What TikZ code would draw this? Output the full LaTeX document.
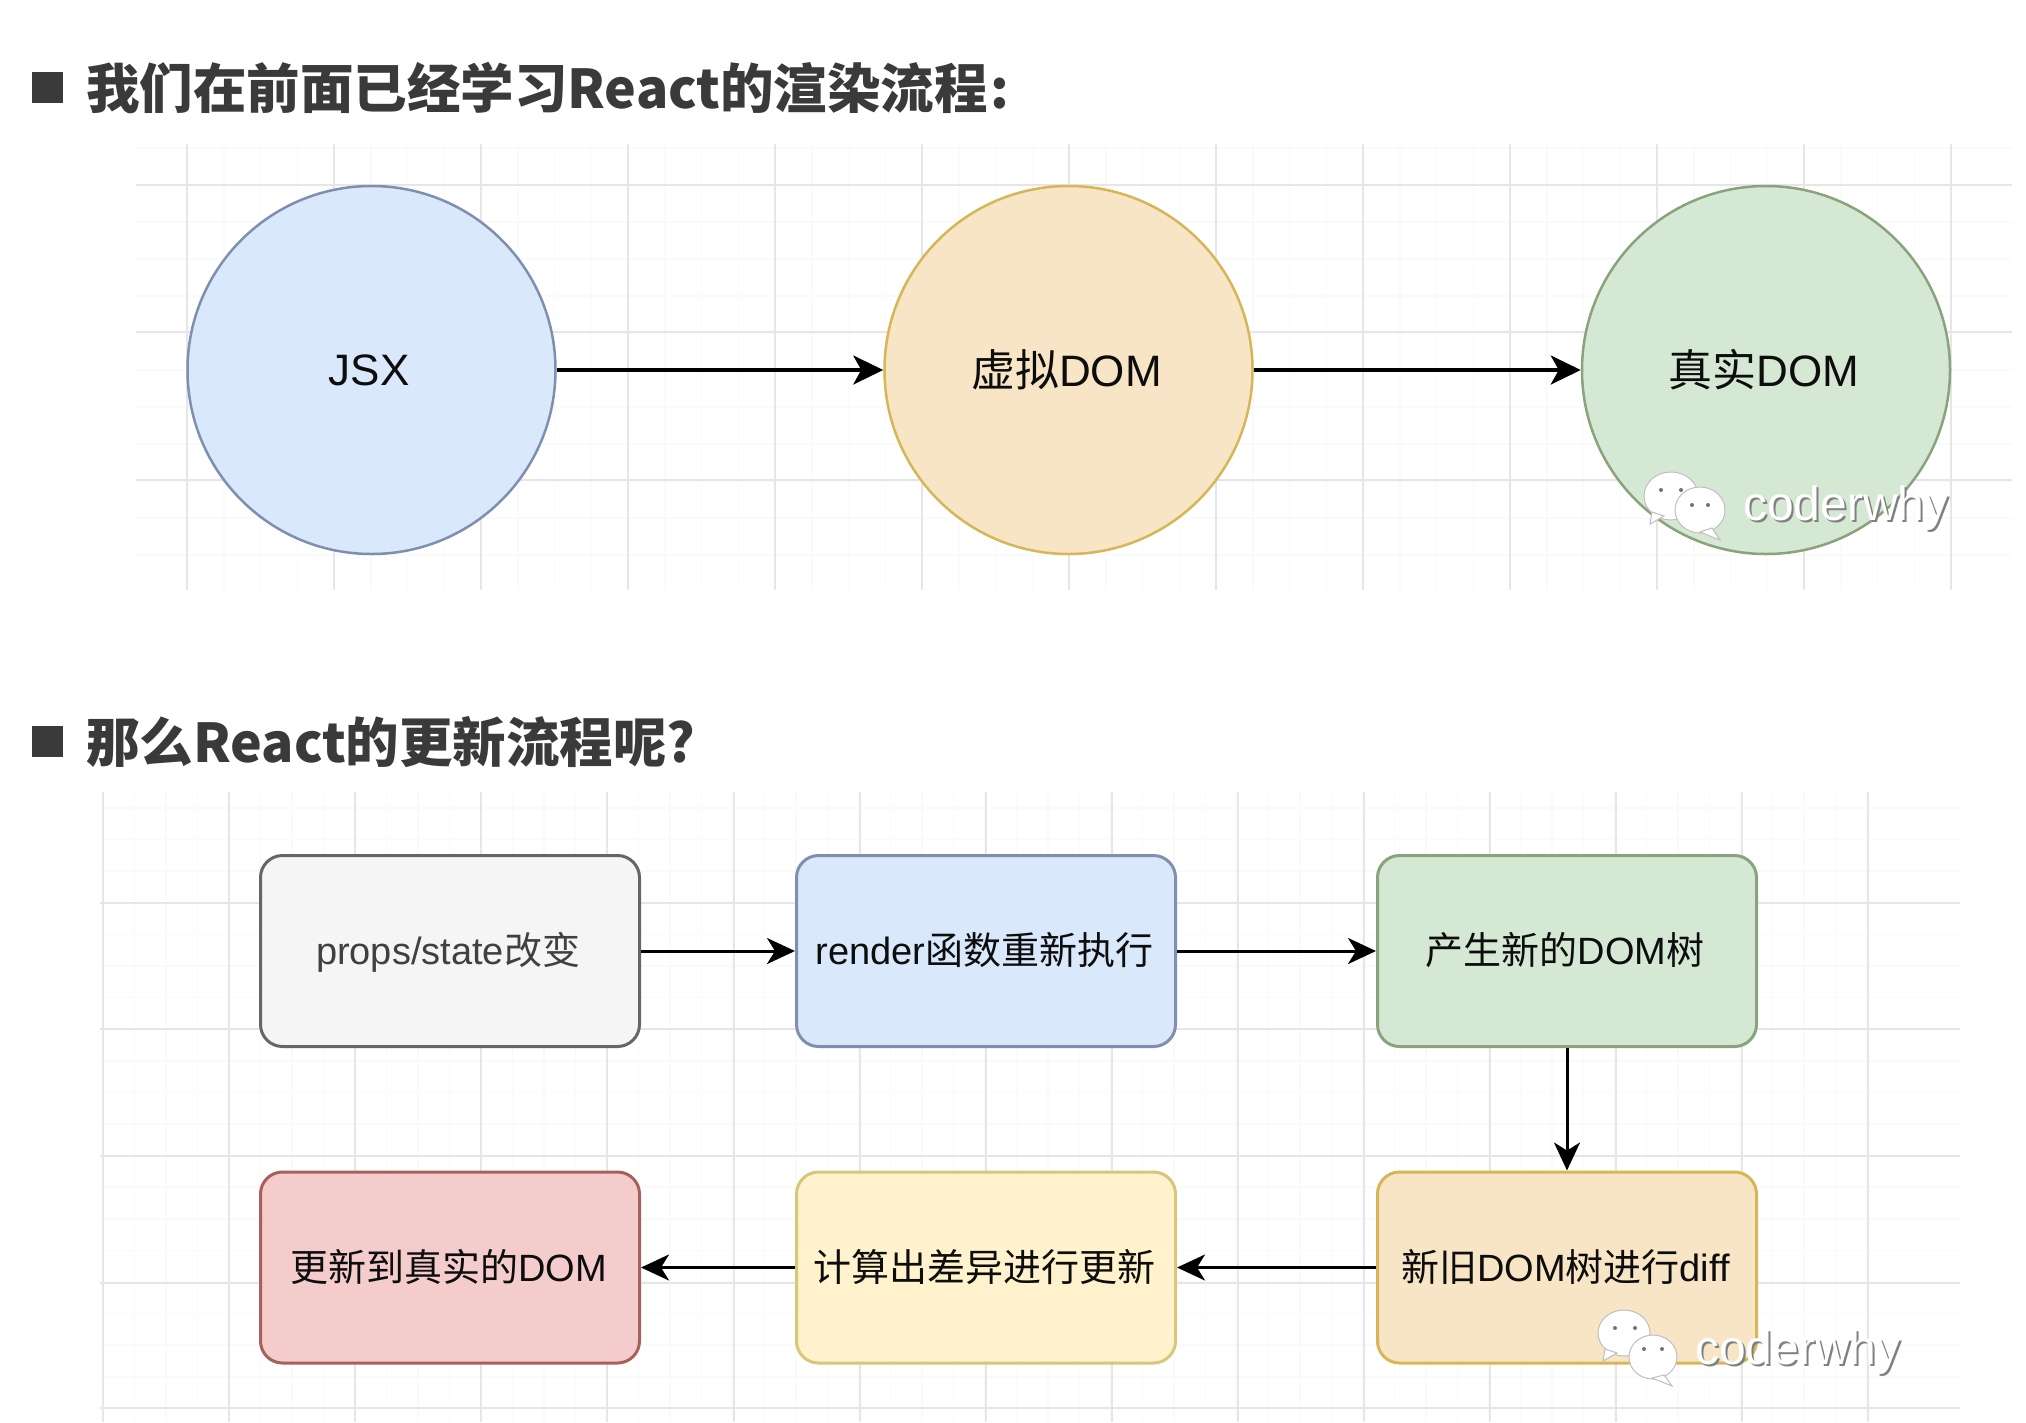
\documentclass[tikz,border=0pt]{standalone}
\usepackage{fontspec}
\setmainfont{Liberation Sans}
\newfontfamily\cjk{Noto Sans CJK SC}
\usetikzlibrary{arrows.meta}
\definecolor{titleink}{HTML}{3A3A3A}
\definecolor{gridmaj}{HTML}{E6E6E6}
\definecolor{gridmin}{HTML}{FAFAFA}
\definecolor{fblue}{HTML}{DAE8FC}\definecolor{sblue}{HTML}{7F8FB0}
\definecolor{fora}{HTML}{F8E5C6}\definecolor{sora}{HTML}{D6B656}
\definecolor{fgreen}{HTML}{D5E8D4}\definecolor{sgreen}{HTML}{8BA37C}
\definecolor{fgray}{HTML}{F5F5F5}\definecolor{sgray}{HTML}{666666}
\definecolor{fyel}{HTML}{FFF2CC}\definecolor{syel}{HTML}{D6C77A}
\definecolor{fred}{HTML}{F4CCCC}\definecolor{sred}{HTML}{A8605C}
\tikzset{
  x=1pt,y=-1pt,
  titletext/.style={anchor=west,inner sep=0pt,text=titleink,font=\cjk\bfseries\fontsize{53.5}{60}\selectfont},
  bulletmark/.style={fill=titleink,draw=none,inner sep=0pt,minimum size=31pt},
  bigcircle/.style 2 args={circle,fill=#1,draw=#2,line width=2.5pt,minimum size=368pt,inner sep=0pt,text=black!95,font=\fontsize{44}{50}\selectfont},
  flowbox/.style 2 args={rectangle,rounded corners=22pt,fill=#1,draw=#2,line width=3pt,minimum width=379pt,minimum height=191pt,inner sep=0pt,text=black!95,text height=33pt,text depth=6pt,font=\fontsize{38}{44}\selectfont},
  conn/.style={line width=3.5pt,-{Stealth[length=30pt,width=29pt,inset=8pt]},black},
  connlow/.style={line width=3pt,-{Stealth[length=28pt,width=26pt,inset=8pt]},black},
  gmaj/.style={draw=gridmaj,line width=2pt},
  gmin/.style={draw=gridmin,line width=1.5pt},
  wmark/.style={anchor=base west,inner sep=0pt,font=\fontsize{48}{54}\selectfont},
  bubble/.style={fill=white,draw=black!25,line width=1pt},
  eye/.style={fill=black!55,draw=none},
}
\begin{document}
\begin{tikzpicture}
\useasboundingbox[fill=white] (0,0) rectangle (2026,1422);
% upper grid
\foreach \i in {0,...,47}{\draw[gmin] ({187+36.75*\i},144) -- ({187+36.75*\i},590);}
\foreach \i in {0,...,11}{\draw[gmin] (136,{148+37*\i}) -- (2012,{148+37*\i});}
\foreach \i in {0,...,12}{\draw[gmaj] ({187+147*\i},144) -- ({187+147*\i},590);}
\foreach \y in {185,332,480}{\draw[gmaj] (136,\y) -- (2012,\y);}
% lower grid
\foreach \i in {0,...,56}{\draw[gmin] ({103+31.5*\i},792) -- ({103+31.5*\i},1422);}
\foreach \i in {0,...,19}{\draw[gmin] (100,{808+31.6*\i}) -- (1960,{808+31.6*\i});}
\foreach \i in {0,...,14}{\draw[gmaj] ({103+126.1*\i},792) -- ({103+126.1*\i},1422);}
\foreach \y in {903,1029,1156,1283,1408}{\draw[gmaj] (100,\y) -- (1960,\y);}
% titles
\node[bulletmark] (b1) at (47,87) {};
\node[titletext] (t1) at (86,88) {我们在前面已经学习React的渲染流程\kern3pt:};
\node[bulletmark] (b2) at (47,741) {};
\node[titletext] (t2) at (86,742) {那么React的更新流程呢?};
% circles
\node[bigcircle={fblue}{sblue}] (jsx) at (371.5,370) {JSX\kern5pt};
\node[bigcircle={fora}{sora}] (vdom) at (1068.5,370) {{\cjk 虚拟}DOM\kern4pt};
\node[bigcircle={fgreen}{sgreen}] (rdom) at (1766,370) {{\cjk 真实}DOM\kern4pt};
\draw[conn] (jsx) -- (vdom);
\draw[conn] (vdom) -- (rdom);
% boxes
\node[flowbox={fgray}{sgray},text=black!75] (n1) at (450,951) {props/state{\cjk 改变}\kern4pt};
\node[flowbox={fblue}{sblue}] (n2) at (986,951) {render{\cjk 函数重新执行}\kern3pt};
\node[flowbox={fgreen}{sgreen}] (n3) at (1567,951) {{\cjk 产生新的}DOM{\cjk 树}\kern4pt};
\node[flowbox={fora}{sora}] (n4) at (1567,1267.5) {{\cjk 新旧}DOM{\cjk 树进行}diff\kern3pt};
\node[flowbox={fyel}{syel}] (n5) at (986,1267.5) {{\cjk 计算出差异进行更新}\kern3pt};
\node[flowbox={fred}{sred}] (n6) at (450,1267.5) {{\cjk 更新到真实的}DOM\kern3pt};
\draw[connlow] (n1) -- (n2);
\draw[connlow] (n2) -- (n3);
\draw[connlow] (n3) -- (n4);
\draw[connlow] (n4) -- (n5);
\draw[connlow] (n5) -- (n6);
% watermark 1
\fill[bubble] (1671,496) ellipse (27 and 24);
\fill[bubble] (1652,512) -- (1650,524) -- (1664,516) -- cycle;
\fill[bubble] (1700,510) ellipse (25 and 23);
\fill[bubble] (1712,528) -- (1720,540) -- (1700,532) -- cycle;
\foreach \p in {(1661,490),(1681,490),(1692,505),(1708,505)}{\fill[eye] \p circle (2);}
\node[wmark,text=black!50] (w1s) at (1745,522) {coderwhy};
\node[wmark,text=white] (w1) at (1743,520) {coderwhy};
% watermark 2
\fill[bubble] (1624,1333) ellipse (26 and 23);
\fill[bubble] (1605,1349) -- (1603,1361) -- (1617,1353) -- cycle;
\fill[bubble] (1653,1357) ellipse (24 and 22);
\fill[bubble] (1664,1375) -- (1672,1386) -- (1652,1378) -- cycle;
\foreach \p in {(1615,1328),(1635,1328),(1644,1349),(1662,1349)}{\fill[eye] \p circle (2);}
\node[wmark,text=black!50] (w2s) at (1697,1366) {coderwhy};
\node[wmark,text=white] (w2) at (1695,1364) {coderwhy};
\end{tikzpicture}
\end{document}
